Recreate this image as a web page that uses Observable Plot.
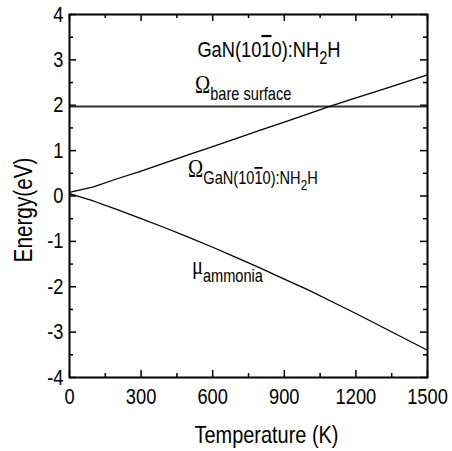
<!DOCTYPE html>
<html>
<head>
<meta charset="utf-8">
<script src="https://cdn.jsdelivr.net/npm/d3@7"></script>
<script src="https://cdn.jsdelivr.net/npm/@observablehq/plot@0.6"></script>
<style>
  body { margin: 0; background: #fff; }
  #chart svg { display: block; }
</style>
</head>
<body>
<div id="chart"></div>
<script>
// ---- data ----
const temperature   = [0, 100, 200, 300, 400, 500, 600, 700, 800, 900, 1000, 1100, 1200, 1300, 1400, 1500];
const omegaAdsorbed = [0.08, 0.20, 0.38, 0.55, 0.73, 0.91, 1.09, 1.27, 1.45, 1.63, 1.81, 1.99, 2.16, 2.33, 2.50, 2.67];
const muAmmonia     = [0.05, -0.11, -0.30, -0.50, -0.70, -0.91, -1.13, -1.36, -1.59, -1.83, -2.07, -2.33, -2.59, -2.86, -3.13, -3.40];
const omegaBare     = 1.97;

const xTicks      = [0, 300, 600, 900, 1200, 1500];
const xMinorTicks = [150, 450, 750, 1050, 1350];
const yTicks      = [-4, -3, -2, -1, 0, 1, 2, 3, 4];
const yMinorTicks = [-3.5, -2.5, -1.5, -0.5, 0.5, 1.5, 2.5, 3.5];

const xTitle = "Temperature (K)";
const yTitle = "Energy(eV)";

// annotation texts ( _{..} = subscript, ~{..} = overline )
const annotationText = [
  "GaN(10~{1}0):NH_{2}H",
  "Ω_{bare surface}",
  "Ω_{GaN(10~{1}0):NH_{2}H}",
  "μ_{ammonia}"
];
// anchor points of the annotations, in data units (T, E)
const annotationT = [536, 526, 497, 513];
const annotationE = [3.07, 2.27, 0.42, -1.72];

// ---- layout ----
const W = 452, H = 451;
const mL = 69, mR = 25, mT = 14, mB = 74;
const fw = W - mL - mR, fh = H - mT - mB;
const FONT = "'Liberation Sans',Arial,Helvetica,sans-serif";
const NARROW = 0.83; // horizontal compression to mimic Helvetica Narrow

const chart = Plot.plot({
  width: W, height: H,
  marginLeft: mL, marginRight: mR, marginTop: mT, marginBottom: mB,
  x: {domain: [0, 1500]},
  y: {domain: [-4, 4]},
  style: {fontFamily: FONT, fontSize: "22px", background: "#fff", color: "#000"},
  marks: [
    // inward ticks on all four sides
    Plot.tickX(xTicks, {x: d => d, insetTop: fh - 7, strokeWidth: 1.5}),
    Plot.tickX(xTicks, {x: d => d, insetBottom: fh - 7, strokeWidth: 1.5}),
    Plot.tickX(xMinorTicks, {x: d => d, insetTop: fh - 4, strokeWidth: 1.5}),
    Plot.tickX(xMinorTicks, {x: d => d, insetBottom: fh - 4, strokeWidth: 1.5}),
    Plot.tickY(yTicks, {y: d => d, insetRight: fw - 7, strokeWidth: 1.5}),
    Plot.tickY(yTicks, {y: d => d, insetLeft: fw - 7, strokeWidth: 1.5}),
    Plot.tickY(yMinorTicks, {y: d => d, insetRight: fw - 4, strokeWidth: 1.5}),
    Plot.tickY(yMinorTicks, {y: d => d, insetLeft: fw - 4, strokeWidth: 1.5}),
    // tick labels
    Plot.axisX(xTicks, {tickSize: 0, tickPadding: 11, tickFormat: d => String(d), label: null, fontSize: 22}),
    Plot.axisY(yTicks, {tickSize: 0, tickPadding: 6, tickFormat: d => String(d), label: null, fontSize: 22}),
    // data
    Plot.ruleY([omegaBare], {stroke: "#333", strokeWidth: 2}),
    Plot.line(temperature, {x: temperature, y: omegaAdsorbed, stroke: "#000", strokeWidth: 1.3}),
    Plot.line(temperature, {x: temperature, y: muAmmonia, stroke: "#000", strokeWidth: 1.3}),
    Plot.frame({stroke: "#000", strokeWidth: 2}),
    // annotations
    Plot.text(annotationText, {x: annotationT, y: annotationE, text: annotationText,
      textAnchor: "start", lineAnchor: "bottom", fontSize: 22}),
    // axis titles
    Plot.text([yTitle], {frameAnchor: "left", rotate: -90, dx: -38, dy: 14,
      textAnchor: "middle", lineAnchor: "bottom", fontSize: 25}),
    Plot.text([xTitle], {frameAnchor: "bottom", dx: 18, dy: 65,
      textAnchor: "middle", lineAnchor: "bottom", fontSize: 24})
  ]
});

document.getElementById("chart").appendChild(chart);

// ---- rich text: subscripts, overlines, serif Greek letters ----
const SVGNS = "http://www.w3.org/2000/svg";
function parseRich(str) {
  const segs = []; const stack = [];
  let level = 0, over = false, buf = "";
  const flush = () => { if (buf) { segs.push({text: buf, level, over}); buf = ""; } };
  for (let i = 0; i < str.length; i++) {
    const c = str[i];
    if (c === "_" && str[i + 1] === "{") { flush(); stack.push("sub"); level++; i++; }
    else if (c === "~" && str[i + 1] === "{") { flush(); stack.push("over"); over = true; i++; }
    else if (c === "}") { flush(); const t = stack.pop(); if (t === "sub") level--; else over = false; }
    else if (c === "Ω" || c === "μ") { flush(); segs.push({text: c, level, over, greek: true}); }
    else buf += c;
  }
  flush();
  return segs;
}
d3.select(chart).selectAll("text").each(function () {
  // narrow the glyphs horizontally around their anchor point
  const tr = this.getAttribute("transform") || "";
  this.setAttribute("transform", tr + ` scale(${NARROW},1)`);

  const s = this.textContent;
  if (!/[_~]\{/.test(s) && !/[Ωμ]/.test(s)) return;
  const base = parseFloat(getComputedStyle(this).fontSize) || 22;
  const sizeAt = l => base * Math.pow(0.8, l);
  const offsetAt = l => { let o = 0; for (let k = 1; k <= l; k++) o += 0.34 * sizeAt(k - 1); return o; };
  const segs = parseRich(s);
  while (this.firstChild) this.removeChild(this.firstChild);
  let cur = 0;
  for (const g of segs) {
    const ts = document.createElementNS(SVGNS, "tspan");
    ts.textContent = g.text;
    ts.setAttribute("font-size", (sizeAt(g.level) * (g.greek ? 1.12 : 1)).toFixed(2));
    const off = offsetAt(g.level);
    if (off !== cur) { ts.setAttribute("dy", (off - cur).toFixed(2)); cur = off; }
    if (g.greek) ts.setAttribute("font-family", "'Liberation Serif','Times New Roman',serif");
    if (g.over) ts.setAttribute("text-decoration", "overline");
    this.appendChild(ts);
  }
});
</script>
</body>
</html>
